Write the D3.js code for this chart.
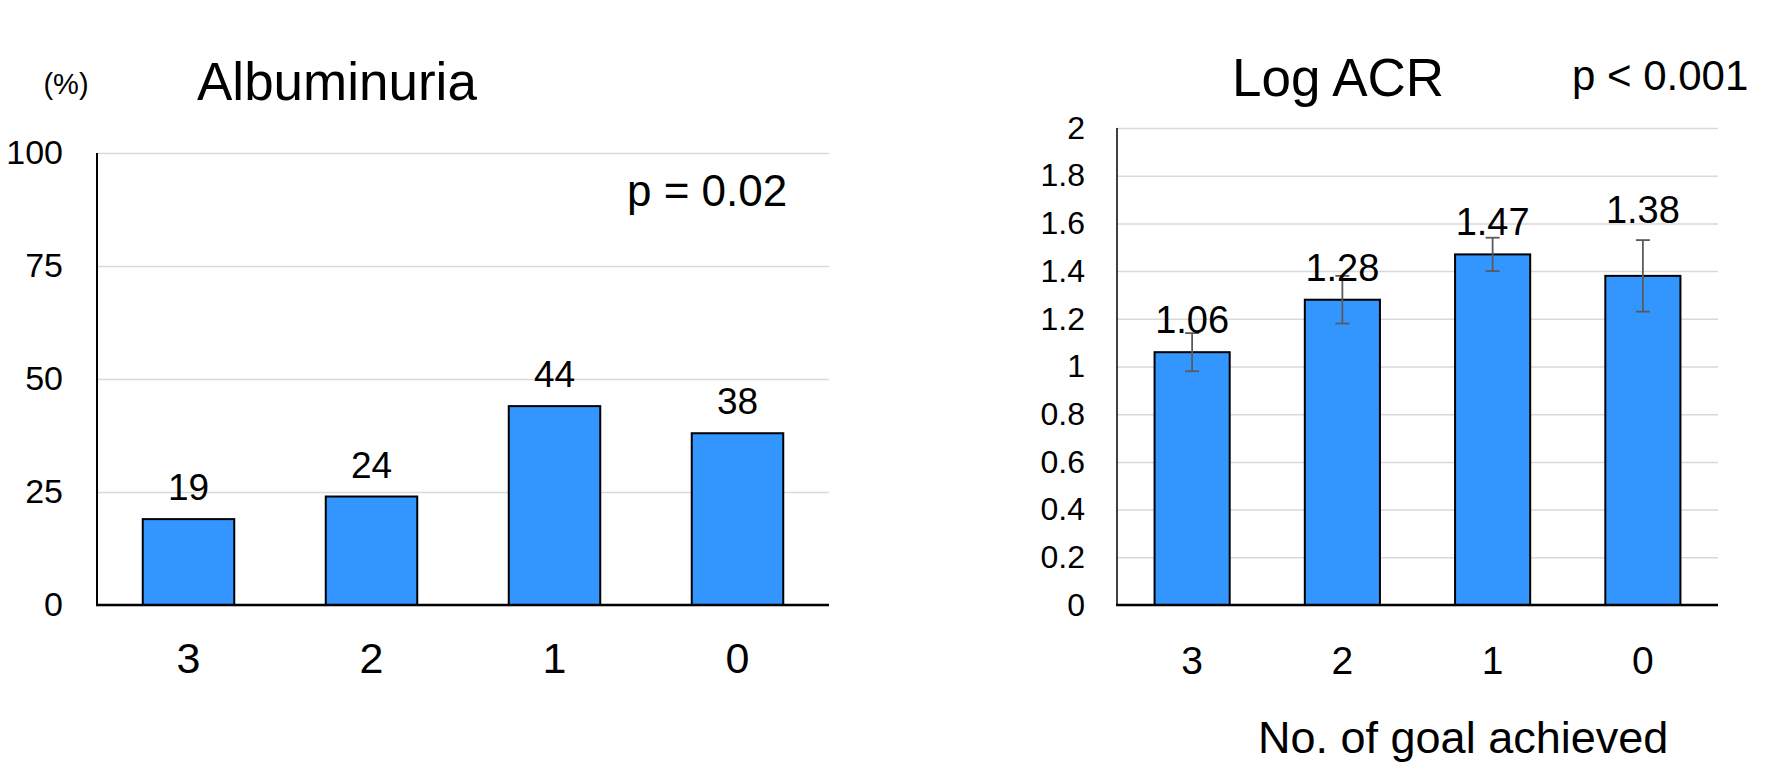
<!DOCTYPE html>
<html>
<head>
<meta charset="UTF-8">
<title>Albuminuria / Log ACR</title>
<script src="https://d3js.org/d3.v7.min.js"></script>
<style>
    html, body { margin: 0; padding: 0; background: #fff; }
    svg { display: block; font-family: "Liberation Sans", Arial, sans-serif; }
</style>
</head>
<body>
<svg width="1772" height="778"></svg>
<script>
// data
var categories = ["3", "2", "1", "0"];
var albuminuria = [19, 24, 44, 38];
var albTicks = [0, 25, 50, 75, 100];
var logAcr = [1.06, 1.28, 1.47, 1.38];
var logAcrErr = [0.08, 0.10, 0.07, 0.15];
var acrTicks = [0, 0.2, 0.4, 0.6, 0.8, 1, 1.2, 1.4, 1.6, 1.8, 2];

var barColor = "#3396ff";
var svg = d3.select("svg");
var baseY = 605;

function drawPanel(opt) {
    var g = svg.append("g");
    var x = d3.scaleBand().domain(categories).range([opt.x0, opt.x1])
        .paddingInner(0.5).paddingOuter(0.25);
    var y = d3.scaleLinear().domain(opt.domain).range([baseY, opt.top]);

    // gridlines
    g.append("g")
        .attr("transform", "translate(" + opt.x0 + ",0)")
        .call(d3.axisLeft(y).tickValues(opt.ticks).tickSize(-(opt.x1 - opt.x0)).tickFormat(""))
        .call(function(a) {
            a.select(".domain").remove();
            a.selectAll("line").attr("stroke", "#d9d9d9").attr("stroke-width", 1.5);
        });

    // y tick labels
    g.append("g")
        .attr("transform", "translate(" + opt.x0 + ",0)")
        .call(d3.axisLeft(y).tickValues(opt.ticks).tickSize(0).tickPadding(opt.labelGap)
            .tickFormat(function(d) { return String(d); }))
        .call(function(a) {
            a.select(".domain").remove();
            a.selectAll("text").attr("font-size", opt.yFont).attr("fill", "#000")
                .attr("font-family", "Liberation Sans, Arial, sans-serif");
        });

    // bars
    g.selectAll("rect.bar").data(opt.values).enter().append("rect")
        .attr("class", "bar")
        .attr("x", function(d, i) { return x(categories[i]); })
        .attr("width", x.bandwidth())
        .attr("y", function(d) { return y(d); })
        .attr("height", function(d) { return baseY - y(d); })
        .attr("fill", barColor)
        .attr("stroke", "#000")
        .attr("stroke-width", 2);

    // error bars
    if (opt.err) {
        var eb = g.selectAll("g.err").data(opt.values).enter().append("g")
            .attr("class", "err")
            .attr("stroke", "#5a5a5a").attr("stroke-width", 1.8);
        eb.append("line")
            .attr("x1", function(d, i) { return x(categories[i]) + x.bandwidth() / 2; })
            .attr("x2", function(d, i) { return x(categories[i]) + x.bandwidth() / 2; })
            .attr("y1", function(d, i) { return y(d + opt.err[i]); })
            .attr("y2", function(d, i) { return y(d - opt.err[i]); });
        [1, -1].forEach(function(s) {
            eb.append("line")
                .attr("x1", function(d, i) { return x(categories[i]) + x.bandwidth() / 2 - 7; })
                .attr("x2", function(d, i) { return x(categories[i]) + x.bandwidth() / 2 + 7; })
                .attr("y1", function(d, i) { return y(d + s * opt.err[i]); })
                .attr("y2", function(d, i) { return y(d + s * opt.err[i]); });
        });
    }

    // value labels
    g.selectAll("text.val").data(opt.values).enter().append("text")
        .attr("class", "val")
        .attr("x", function(d, i) { return x(categories[i]) + x.bandwidth() / 2; })
        .attr("y", function(d, i) {
            var ly = y(d) - 19;
            if (opt.err) {
                var top = y(d + opt.err[i]);
                if (ly - top > 10) ly = top - 17;
            }
            return ly;
        })
        .attr("text-anchor", "middle")
        .attr("font-size", opt.valFont)
        .text(function(d) { return String(d); });

    // axes lines
    g.append("line")
        .attr("x1", opt.x0).attr("x2", opt.x0)
        .attr("y1", y(opt.domain[1])).attr("y2", baseY)
        .attr("stroke", "#000").attr("stroke-width", opt.yAxisW);
    g.append("line")
        .attr("x1", opt.x0 - 1).attr("x2", opt.x1)
        .attr("y1", baseY).attr("y2", baseY)
        .attr("stroke", "#000").attr("stroke-width", 2.5);

    // x tick labels
    g.append("g")
        .attr("transform", "translate(0," + baseY + ")")
        .call(d3.axisBottom(x).tickSize(0).tickPadding(opt.xGap))
        .call(function(a) {
            a.select(".domain").remove();
            a.selectAll("text").attr("font-size", opt.xFont).attr("fill", "#000")
                .attr("font-family", "Liberation Sans, Arial, sans-serif");
        });
    return g;
}

drawPanel({
    x0: 97, x1: 829, top: 153, domain: [0, 100], ticks: albTicks,
    values: albuminuria, yFont: 34, labelGap: 34, valFont: 37,
    xFont: 43, xGap: 37, yAxisW: 2
});

drawPanel({
    x0: 1117, x1: 1718, top: 128, domain: [0, 2], ticks: acrTicks,
    values: logAcr, err: logAcrErr, yFont: 32, labelGap: 32, valFont: 38,
    xFont: 39, xGap: 41, yAxisW: 1.5
});

// titles and notes
svg.append("text").attr("x", 66).attr("y", 94).attr("text-anchor", "middle")
    .attr("font-size", 29).text("(%)");
svg.append("text").attr("x", 197).attr("y", 100)
    .attr("font-size", 53).text("Albuminuria");
svg.append("text").attr("x", 627).attr("y", 206)
    .attr("font-size", 44).text("p = 0.02");
svg.append("text").attr("x", 1232).attr("y", 96)
    .attr("font-size", 53).text("Log ACR");
svg.append("text").attr("x", 1572).attr("y", 90)
    .attr("font-size", 42).text("p < 0.001");
svg.append("text").attr("x", 1258).attr("y", 753)
    .attr("font-size", 45).text("No. of goal achieved");
</script>
</body>
</html>
